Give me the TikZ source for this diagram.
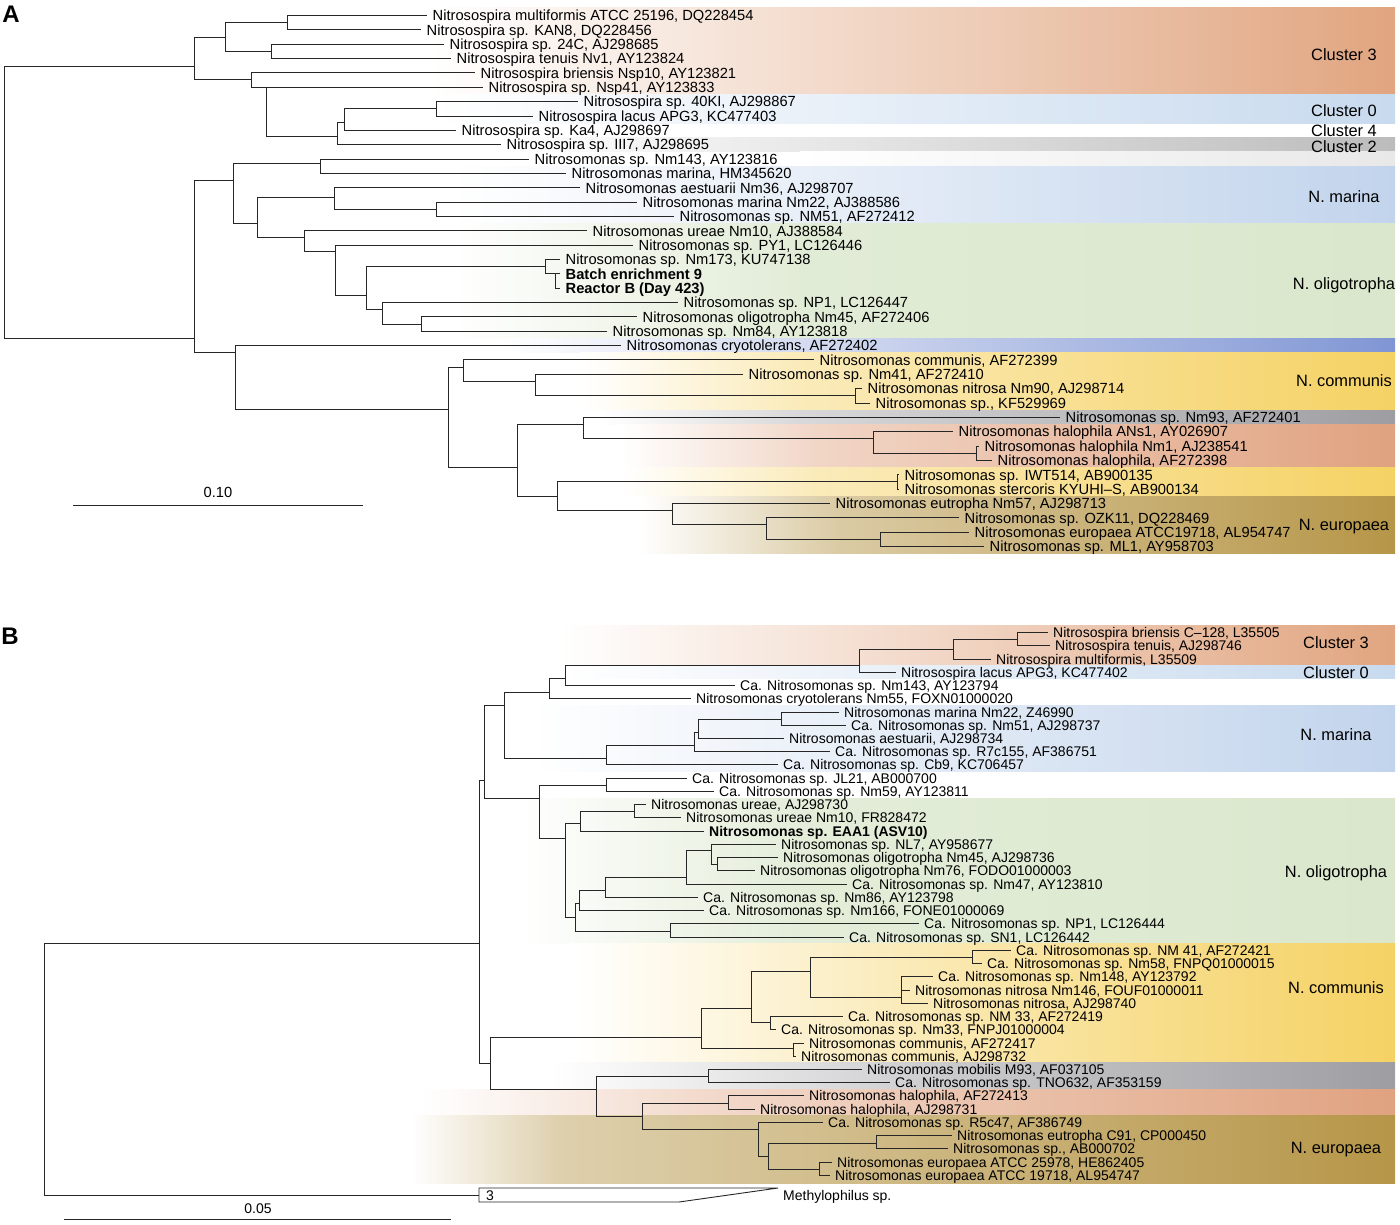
\documentclass[tikz,border=0pt]{standalone}
\usepackage{fontspec}
\setmainfont{Liberation Sans}

\definecolor{clthree}{RGB}{225,165,128}
\definecolor{clzero}{RGB}{200,218,238}
\definecolor{cltwo}{RGB}{188,188,188}
\definecolor{cllight}{RGB}{232,232,232}
\definecolor{clmarina}{RGB}{194,212,236}
\definecolor{cloligo}{RGB}{218,231,204}
\definecolor{clcryo}{RGB}{128,150,212}
\definecolor{clcomm}{RGB}{245,210,100}
\definecolor{clgrey}{RGB}{158,158,162}
\definecolor{clhalo}{RGB}{224,162,128}
\definecolor{cleuro}{RGB}{182,150,72}

% y1 y2 xstart xmid percent colour
\newcommand{\cladeband}[6]{%
  \shade[left color=white, right color=#6!#5] (#3,#1) rectangle (#4,#2);
  \shade[left color=#6!#5, right color=#6] (#4-0.5,#1) rectangle (1395,#2);}

\tikzset{
  br/.style={draw=black!85, line width=0.9pt},
  leafa/.style={anchor=west, inner xsep=5.5pt, inner ysep=0pt, text height=10.6pt, text depth=0pt, font=\fontsize{14.7}{16}\selectfont},
  leafb/.style={anchor=west, inner xsep=5pt, inner ysep=0pt, text height=10.1pt, text depth=0pt, font=\fontsize{14}{15}\selectfont},
  grp/.style={inner sep=0pt, text height=11.8pt, text depth=0pt, font=\fontsize{16.4}{18}\selectfont},
  panel/.style={inner sep=0pt, font=\fontsize{24}{24}\selectfont\bfseries}
}

\begin{document}
\begin{tikzpicture}[x=1pt, y=-1pt]
\useasboundingbox (0,0) rectangle (1400,1224);

% bands, panel A
\cladeband{7.5}{94.4}{430}{912}{50}{clthree}
\cladeband{94.4}{123.1}{430}{912}{50}{clzero}
\cladeband{137.5}{151.8}{500}{948}{50}{cltwo}
\cladeband{151.8}{166.2}{800}{1100}{50}{cllight}
\cladeband{166.2}{223.6}{450}{922}{50}{clmarina}
\cladeband{223.6}{338.4}{450}{800}{80}{cloligo}
\cladeband{338.4}{352.7}{500}{950}{50}{clcryo}
\cladeband{352.7}{410.1}{580}{800}{45}{clcomm}
\cladeband{410.1}{424.5}{600}{800}{40}{clgrey}
\cladeband{424.5}{467.5}{620}{820}{45}{clhalo}
\cladeband{467.5}{496.2}{620}{820}{45}{clcomm}
\cladeband{496.2}{553.7}{640}{840}{50}{cleuro}

% bands, panel B
\cladeband{625.9}{665.6}{560}{980}{50}{clthree}
\cladeband{665.6}{678.8}{560}{980}{50}{clzero}
\cladeband{705.3}{771.5}{530}{960}{50}{clmarina}
\cladeband{798}{943.6}{520}{800}{75}{cloligo}
\cladeband{943.6}{1062.8}{570}{980}{55}{clcomm}
\cladeband{1062.8}{1089.3}{550}{960}{55}{clgrey}
\cladeband{1089.3}{1115.8}{420}{700}{40}{clhalo}
\cladeband{1115.8}{1183}{410}{560}{45}{cleuro}

\node[panel] (pa) at (11,14) {A};
\node[panel] (pb) at (10,636) {B};

% tree A
\coordinate (ra) at (4.5,202);
\coordinate (a1) at (194,66);
\coordinate (a2) at (225,37.7);
\coordinate (a3) at (287,22.7);
\coordinate (a4) at (271,51.4);
\coordinate (a5) at (251,79.3);
\coordinate (a6) at (266,87.25);
\coordinate (a7) at (337,136.7);
\coordinate (a8) at (344,122.3);
\coordinate (a9) at (436,108.8);
\coordinate (b1) at (194,338);
\coordinate (b2) at (233,180);
\coordinate (b3) at (320,163);
\coordinate (b4) at (257,223);
\coordinate (b5) at (334,197);
\coordinate (b6) at (436,209.2);
\coordinate (b7) at (304,237);
\coordinate (b8) at (335,251);
\coordinate (b9) at (366,295);
\coordinate (b13) at (545,266);
\coordinate (b14) at (555,273.8);
\coordinate (b11) at (382,309);
\coordinate (b12) at (421,324);
\coordinate (b10) at (235,352);
\coordinate (c1) at (448,409);
\coordinate (c2) at (463,367);
\coordinate (c3) at (535,381);
\coordinate (c4) at (855,395.8);
\coordinate (c5) at (517,467);
\coordinate (c6) at (583,424);
\coordinate (c7) at (873,438);
\coordinate (c8) at (976,453.2);
\coordinate (c9) at (557,496);
\coordinate (c10) at (897,481.9);
\coordinate (c11) at (672,510);
\coordinate (c12) at (766,524);
\coordinate (c13) at (880,539.3);

\node[leafa] (la1) at (427,15.5) {Nitrosospira multiformis ATCC 25196, DQ228454};
\node[leafa] (la2) at (421,29.85) {Nitrosospira sp. KAN8, DQ228456};
\node[leafa] (la3) at (444,44.2) {Nitrosospira sp. 24C, AJ298685};
\node[leafa] (la4) at (451,58.55) {Nitrosospira tenuis Nv1, AY123824};
\node[leafa] (la5) at (475,72.9) {Nitrosospira briensis Nsp10, AY123821};
\node[leafa] (la6) at (483,87.25) {Nitrosospira sp. Nsp41, AY123833};
\node[leafa] (la7) at (578,101.6) {Nitrosospira sp. 40KI, AJ298867};
\node[leafa] (la8) at (533,115.95) {Nitrosospira lacus APG3, KC477403};
\node[leafa] (la9) at (456,130.3) {Nitrosospira sp. Ka4, AJ298697};
\node[leafa] (la10) at (501,144.65) {Nitrosospira sp. III7, AJ298695};
\node[leafa] (la11) at (529,159) {Nitrosomonas sp. Nm143, AY123816};
\node[leafa] (la12) at (566,173.35) {Nitrosomonas marina, HM345620};
\node[leafa] (la13) at (580,187.7) {Nitrosomonas aestuarii Nm36, AJ298707};
\node[leafa] (la14) at (637,202.05) {Nitrosomonas marina Nm22, AJ388586};
\node[leafa] (la15) at (674,216.4) {Nitrosomonas sp. NM51, AF272412};
\node[leafa] (la16) at (587,230.75) {Nitrosomonas ureae Nm10, AJ388584};
\node[leafa] (la17) at (633,245.1) {Nitrosomonas sp. PY1, LC126446};
\node[leafa] (la18) at (560,259.45) {Nitrosomonas sp. Nm173, KU747138};
\node[leafa] (la19) at (560,273.8) {\textbf{Batch enrichment 9}};
\node[leafa] (la20) at (560,288.15) {\textbf{Reactor B (Day 423)}};
\node[leafa] (la21) at (678,302.5) {Nitrosomonas sp. NP1, LC126447};
\node[leafa] (la22) at (637,316.85) {Nitrosomonas oligotropha Nm45, AF272406};
\node[leafa] (la23) at (607,331.2) {Nitrosomonas sp. Nm84, AY123818};
\node[leafa] (la24) at (621,345.55) {Nitrosomonas cryotolerans, AF272402};
\node[leafa] (la25) at (814,359.9) {Nitrosomonas communis, AF272399};
\node[leafa] (la26) at (743,374.25) {Nitrosomonas sp. Nm41, AF272410};
\node[leafa] (la27) at (862,388.6) {Nitrosomonas nitrosa Nm90, AJ298714};
\node[leafa] (la28) at (870,402.95) {Nitrosomonas sp., KF529969};
\node[leafa] (la29) at (1060,417.3) {Nitrosomonas sp. Nm93, AF272401};
\node[leafa] (la30) at (953,431.65) {Nitrosomonas halophila ANs1, AY026907};
\node[leafa] (la31) at (979,446) {Nitrosomonas halophila Nm1, AJ238541};
\node[leafa] (la32) at (992,460.35) {Nitrosomonas halophila, AF272398};
\node[leafa] (la33) at (899,474.7) {Nitrosomonas sp. IWT514, AB900135};
\node[leafa] (la34) at (899,489.05) {Nitrosomonas stercoris KYUHI–S, AB900134};
\node[leafa] (la35) at (830,503.4) {Nitrosomonas eutropha Nm57, AJ298713};
\node[leafa] (la36) at (959,517.75) {Nitrosomonas sp. OZK11, DQ228469};
\node[leafa] (la37) at (969,532.1) {Nitrosomonas europaea ATCC19718, AL954747};
\node[leafa] (la38) at (984,546.45) {Nitrosomonas sp. ML1, AY958703};

\draw[br] (ra) |- (a1) (ra) |- (b1);
\draw[br] (a1) |- (a2) (a1) |- (a5);
\draw[br] (a2) |- (a3) (a2) |- (a4);
\draw[br] (a3) |- (la1.west) (a3) |- (la2.west);
\draw[br] (a4) |- (la3.west) (a4) |- (la4.west);
\draw[br] (a5) |- (la5.west) (a5) |- (a6);
\draw[br] (a6) |- (la6.west) (a6) |- (a7);
\draw[br] (a7) |- (a8) (a7) |- (la10.west);
\draw[br] (a8) |- (a9) (a8) |- (la9.west);
\draw[br] (a9) |- (la7.west) (a9) |- (la8.west);
\draw[br] (b1) |- (b2) (b1) |- (b10);
\draw[br] (b2) |- (b3) (b2) |- (b4);
\draw[br] (b3) |- (la11.west) (b3) |- (la12.west);
\draw[br] (b4) |- (b5) (b4) |- (b7);
\draw[br] (b5) |- (la13.west) (b5) |- (b6);
\draw[br] (b6) |- (la14.west) (b6) |- (la15.west);
\draw[br] (b7) |- (la16.west) (b7) |- (b8);
\draw[br] (b8) |- (la17.west) (b8) |- (b9);
\draw[br] (b9) |- (b13) (b9) |- (b11);
\draw[br] (b13) |- (la18.west) (b13) |- (b14);
\draw[br] (b14) |- (la19.west) (b14) |- (la20.west);
\draw[br] (b11) |- (la21.west) (b11) |- (b12);
\draw[br] (b12) |- (la22.west) (b12) |- (la23.west);
\draw[br] (b10) |- (la24.west) (b10) |- (c1);
\draw[br] (c1) |- (c2) (c1) |- (c5);
\draw[br] (c2) |- (la25.west) (c2) |- (c3);
\draw[br] (c3) |- (la26.west) (c3) |- (c4);
\draw[br] (c4) |- (la27.west) (c4) |- (la28.west);
\draw[br] (c5) |- (c6) (c5) |- (c9);
\draw[br] (c6) |- (la29.west) (c6) |- (c7);
\draw[br] (c7) |- (la30.west) (c7) |- (c8);
\draw[br] (c8) |- (la31.west) (c8) |- (la32.west);
\draw[br] (c9) |- (c10) (c9) |- (c11);
\draw[br] (c10) |- (la33.west) (c10) |- (la34.west);
\draw[br] (c11) |- (la35.west) (c11) |- (c12);
\draw[br] (c12) |- (la36.west) (c12) |- (c13);
\draw[br] (c13) |- (la37.west) (c13) |- (la38.west);

\node[grp] (ga1) at (1344,55) {Cluster 3};
\node[grp] (ga2) at (1344,111) {Cluster 0};
\node[grp] (ga3) at (1344,131) {Cluster 4};
\node[grp] (ga4) at (1344,147) {Cluster 2};
\node[grp] (ga5) at (1344,197) {N. marina};
\node[grp] (ga6) at (1344,284) {N. oligotropha};
\node[grp] (ga7) at (1344,381) {N. communis};
\node[grp] (ga8) at (1344,525) {N. europaea};

\coordinate (sa0) at (73,505);
\coordinate (sa1) at (363,505);
\draw[br] (sa0) -- (sa1);
\node[leafa, anchor=center, inner xsep=0pt] (sal) at (218,492) {0.10};

% tree B
\coordinate (rb) at (44.6,1069);
\coordinate (n0) at (479,943);
\coordinate (tri) at (479,1195);
\coordinate (n1) at (484,780);
\coordinate (n2) at (490,1063);
\coordinate (p1) at (504,705);
\coordinate (p2) at (549,692);
\coordinate (p3) at (565,678);
\coordinate (p4) at (859,665);
\coordinate (p5) at (953,649);
\coordinate (p6) at (1017,639);
\coordinate (k1) at (606,758);
\coordinate (k2) at (694,745);
\coordinate (k3) at (698,732);
\coordinate (k4) at (781,719);
\coordinate (q1) at (539,798);
\coordinate (q2) at (606,785);
\coordinate (q3) at (565,838);
\coordinate (q4) at (580,823);
\coordinate (q5) at (634,811);
\coordinate (q6) at (575,917);
\coordinate (q7) at (579,903);
\coordinate (q8) at (605,890);
\coordinate (q9) at (686,877);
\coordinate (q10) at (711,850);
\coordinate (q12) at (717,864);
\coordinate (q11) at (670,931);
\coordinate (s1) at (701,1037);
\coordinate (s2) at (751,1008);
\coordinate (s3) at (810,971);
\coordinate (s4) at (972,957);
\coordinate (s5) at (901,997);
\coordinate (s6) at (770,1022);
\coordinate (s7) at (793,1048);
\coordinate (e1) at (596,1089);
\coordinate (e2) at (708,1076);
\coordinate (e3) at (642,1116);
\coordinate (e4) at (728,1103);
\coordinate (e5) at (758,1129);
\coordinate (e6) at (768,1156);
\coordinate (e7) at (876,1143);
\coordinate (e8) at (819,1169);

\node[leafb] (lb1) at (1048,632.5) {Nitrosospira briensis C–128, L35505};
\node[leafb] (lb2) at (1050,645.74) {Nitrosospira tenuis, AJ298746};
\node[leafb] (lb3) at (991,658.98) {Nitrosospira multiformis, L35509};
\node[leafb] (lb4) at (896,672.22) {Nitrosospira lacus APG3, KC477402};
\node[leafb] (lb5) at (735,685.46) {Ca. Nitrosomonas sp. Nm143, AY123794};
\node[leafb] (lb6) at (691,698.7) {Nitrosomonas cryotolerans Nm55, FOXN01000020};
\node[leafb] (lb7) at (839,711.94) {Nitrosomonas marina Nm22, Z46990};
\node[leafb] (lb8) at (846,725.18) {Ca. Nitrosomonas sp. Nm51, AJ298737};
\node[leafb] (lb9) at (784,738.42) {Nitrosomonas aestuarii, AJ298734};
\node[leafb] (lb10) at (830,751.66) {Ca. Nitrosomonas sp. R7c155, AF386751};
\node[leafb] (lb11) at (778,764.9) {Ca. Nitrosomonas sp. Cb9, KC706457};
\node[leafb] (lb12) at (687,778.14) {Ca. Nitrosomonas sp. JL21, AB000700};
\node[leafb] (lb13) at (714,791.38) {Ca. Nitrosomonas sp. Nm59, AY123811};
\node[leafb] (lb14) at (646,804.62) {Nitrosomonas ureae, AJ298730};
\node[leafb] (lb15) at (681,817.86) {Nitrosomonas ureae Nm10, FR828472};
\node[leafb] (lb16) at (704,831.1) {\textbf{Nitrosomonas sp. EAA1 (ASV10)}};
\node[leafb] (lb17) at (776,844.34) {Nitrosomonas sp. NL7, AY958677};
\node[leafb] (lb18) at (778,857.58) {Nitrosomonas oligotropha Nm45, AJ298736};
\node[leafb] (lb19) at (755,870.82) {Nitrosomonas oligotropha Nm76, FODO01000003};
\node[leafb] (lb20) at (847,884.06) {Ca. Nitrosomonas sp. Nm47, AY123810};
\node[leafb] (lb21) at (698,897.3) {Ca. Nitrosomonas sp. Nm86, AY123798};
\node[leafb] (lb22) at (704,910.54) {Ca. Nitrosomonas sp. Nm166, FONE01000069};
\node[leafb] (lb23) at (919,923.78) {Ca. Nitrosomonas sp. NP1, LC126444};
\node[leafb] (lb24) at (844,937.02) {Ca. Nitrosomonas sp. SN1, LC126442};
\node[leafb] (lb25) at (1011,950.26) {Ca. Nitrosomonas sp. NM 41, AF272421};
\node[leafb] (lb26) at (982,963.5) {Ca. Nitrosomonas sp. Nm58, FNPQ01000015};
\node[leafb] (lb27) at (933,976.74) {Ca. Nitrosomonas sp. Nm148, AY123792};
\node[leafb] (lb28) at (910,989.98) {Nitrosomonas nitrosa Nm146, FOUF01000011};
\node[leafb] (lb29) at (928,1003.22) {Nitrosomonas nitrosa, AJ298740};
\node[leafb] (lb30) at (843,1016.46) {Ca. Nitrosomonas sp. NM 33, AF272419};
\node[leafb] (lb31) at (776,1029.7) {Ca. Nitrosomonas sp. Nm33, FNPJ01000004};
\node[leafb] (lb32) at (804,1042.94) {Nitrosomonas communis, AF272417};
\node[leafb] (lb33) at (796,1056.18) {Nitrosomonas communis, AJ298732};
\node[leafb] (lb34) at (862,1069.42) {Nitrosomonas mobilis M93, AF037105};
\node[leafb] (lb35) at (890,1082.66) {Ca. Nitrosomonas sp. TNO632, AF353159};
\node[leafb] (lb36) at (804,1095.9) {Nitrosomonas halophila, AF272413};
\node[leafb] (lb37) at (755,1109.14) {Nitrosomonas halophila, AJ298731};
\node[leafb] (lb38) at (823,1122.38) {Ca. Nitrosomonas sp. R5c47, AF386749};
\node[leafb] (lb39) at (952,1135.62) {Nitrosomonas eutropha C91, CP000450};
\node[leafb] (lb40) at (948,1148.86) {Nitrosomonas sp., AB000702};
\node[leafb] (lb41) at (832,1162.1) {Nitrosomonas europaea ATCC 25978, HE862405};
\node[leafb] (lb42) at (830,1175.34) {Nitrosomonas europaea ATCC 19718, AL954747};
\node[leafb] (lb43) at (778,1195) {Methylophilus sp.};

\draw[br] (rb) |- (n0) (rb) |- (tri);
\draw[br] (tri) -- (479,1188) -- (778,1188) -- (679,1202) -- (479,1202) -- cycle;
\node[leafb, inner xsep=0pt] (nthree) at (486,1195) {3};
\draw[br] (n0) |- (n1) (n0) |- (n2);
\draw[br] (n1) |- (p1) (n1) |- (q1);
\draw[br] (p1) |- (p2) (p1) |- (k1);
\draw[br] (p2) |- (p3) (p2) |- (lb6.west);
\draw[br] (p3) |- (p4) (p3) |- (lb5.west);
\draw[br] (p4) |- (p5) (p4) |- (lb4.west);
\draw[br] (p5) |- (p6) (p5) |- (lb3.west);
\draw[br] (p6) |- (lb1.west) (p6) |- (lb2.west);
\draw[br] (k1) |- (k2) (k1) |- (lb11.west);
\draw[br] (k2) |- (k3) (k2) |- (lb10.west);
\draw[br] (k3) |- (k4) (k3) |- (lb9.west);
\draw[br] (k4) |- (lb7.west) (k4) |- (lb8.west);
\draw[br] (q1) |- (q2) (q1) |- (q3);
\draw[br] (q2) |- (lb12.west) (q2) |- (lb13.west);
\draw[br] (q3) |- (q4) (q3) |- (q6);
\draw[br] (q4) |- (q5) (q4) |- (lb16.west);
\draw[br] (q5) |- (lb14.west) (q5) |- (lb15.west);
\draw[br] (q6) |- (q7) (q6) |- (q11);
\draw[br] (q7) |- (q8) (q7) |- (lb22.west);
\draw[br] (q8) |- (q9) (q8) |- (lb21.west);
\draw[br] (q9) |- (q10) (q9) |- (lb20.west);
\draw[br] (q10) |- (lb17.west) (q10) |- (q12);
\draw[br] (q12) |- (lb18.west) (q12) |- (lb19.west);
\draw[br] (q11) |- (lb23.west) (q11) |- (lb24.west);
\draw[br] (n2) |- (s1) (n2) |- (e1);
\draw[br] (s1) |- (s2) (s1) |- (s7);
\draw[br] (s2) |- (s3) (s2) |- (s6);
\draw[br] (s3) |- (s4) (s3) |- (s5);
\draw[br] (s4) |- (lb25.west) (s4) |- (lb26.west);
\draw[br] (s5) |- (lb27.west) (s5) |- (lb28.west) (s5) |- (lb29.west);
\draw[br] (s6) |- (lb30.west) (s6) |- (lb31.west);
\draw[br] (s7) |- (lb32.west) (s7) |- (lb33.west);
\draw[br] (e1) |- (e2) (e1) |- (e3);
\draw[br] (e2) |- (lb34.west) (e2) |- (lb35.west);
\draw[br] (e3) |- (e4) (e3) |- (e5);
\draw[br] (e4) |- (lb36.west) (e4) |- (lb37.west);
\draw[br] (e5) |- (lb38.west) (e5) |- (e6);
\draw[br] (e6) |- (e7) (e6) |- (e8);
\draw[br] (e7) |- (lb39.west) (e7) |- (lb40.west);
\draw[br] (e8) |- (lb41.west) (e8) |- (lb42.west);

\node[grp] (gb1) at (1336,643) {Cluster 3};
\node[grp] (gb2) at (1336,673) {Cluster 0};
\node[grp] (gb3) at (1336,735) {N. marina};
\node[grp] (gb4) at (1336,872) {N. oligotropha};
\node[grp] (gb5) at (1336,988) {N. communis};
\node[grp] (gb6) at (1336,1148) {N. europaea};

\coordinate (sb0) at (64,1219);
\coordinate (sb1) at (451,1219);
\draw[br] (sb0) -- (sb1);
\node[leafb, anchor=center, inner xsep=0pt] (sbl) at (258,1208) {0.05};
\end{tikzpicture}
\end{document}
